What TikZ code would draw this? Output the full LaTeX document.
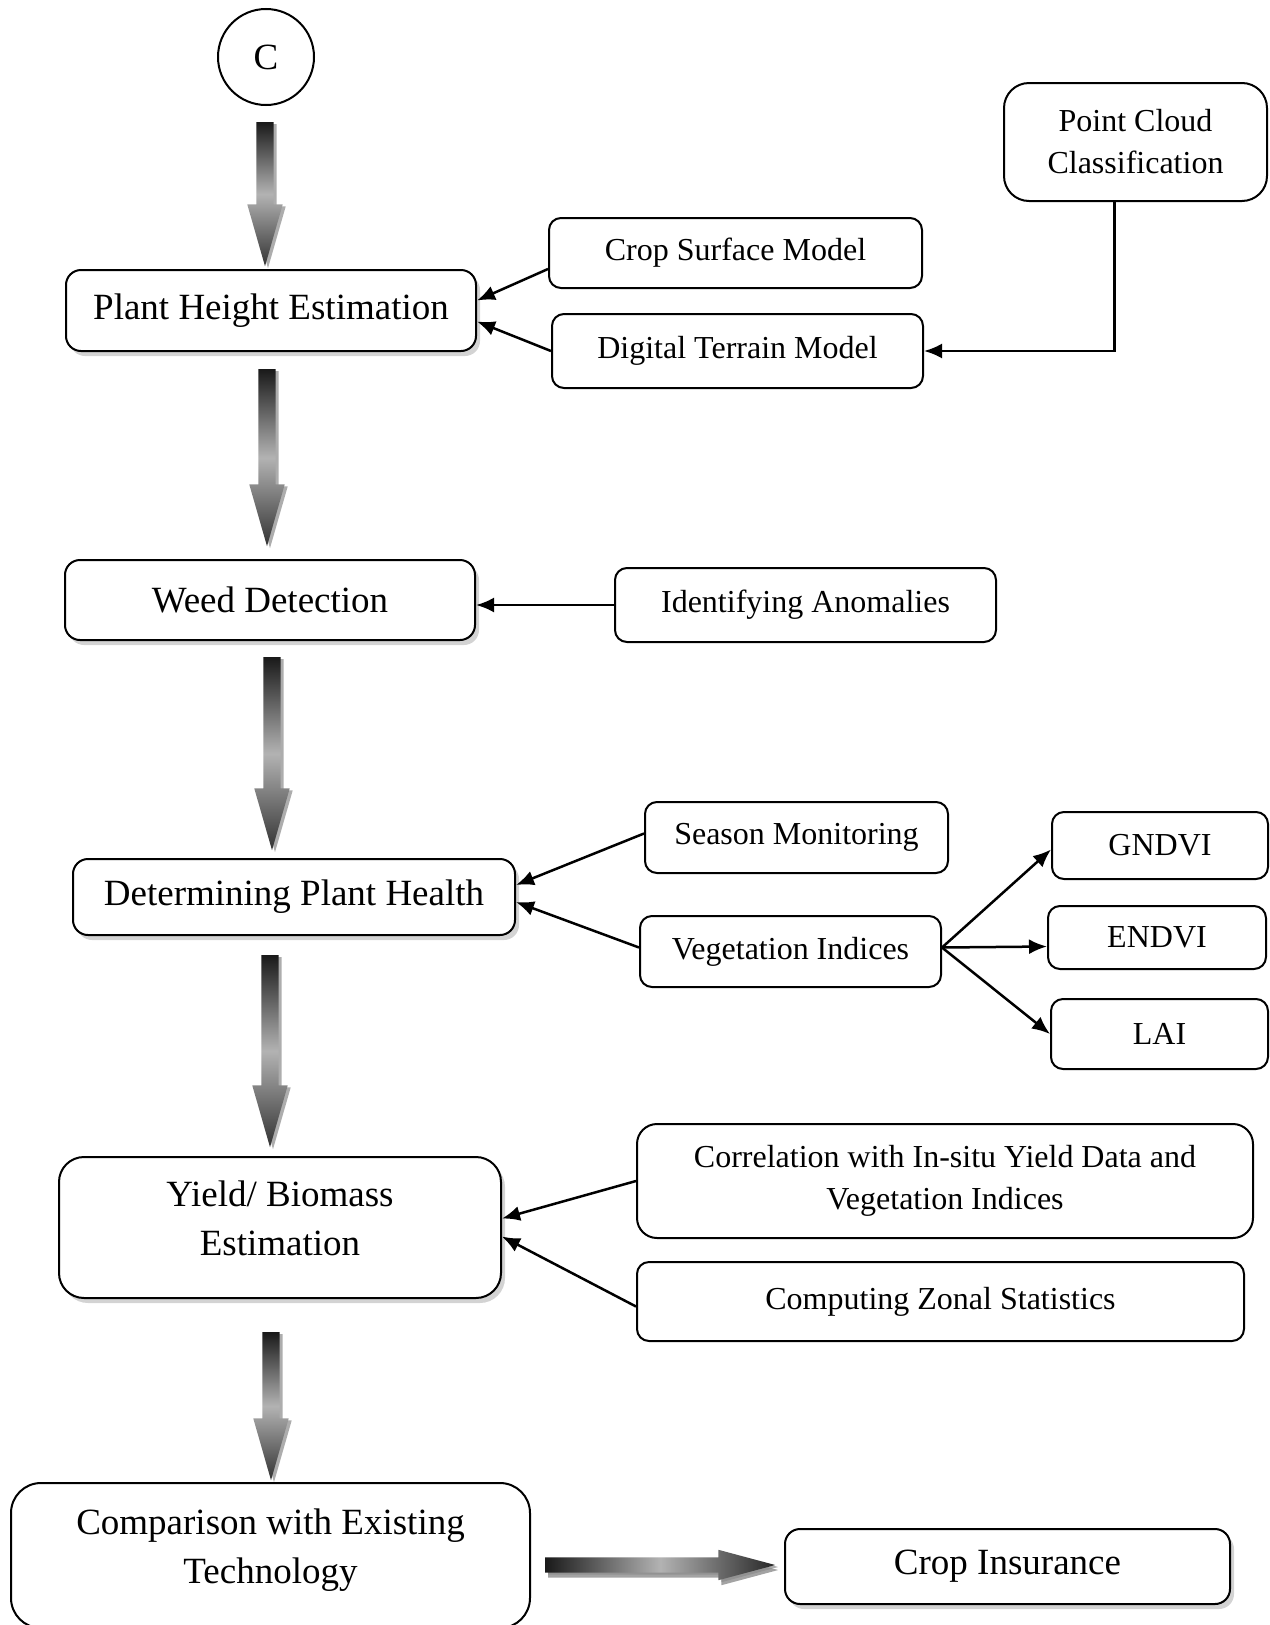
\documentclass[tikz,border=0pt]{standalone}
\usepackage{fontspec}
\setmainfont{Liberation Serif}
\usepackage{tikz}
\usetikzlibrary{shapes,arrows.meta,positioning,shadows}

\newcommand{\bigtxt}{\fontsize{37}{49}\selectfont}
\newcommand{\smalltxt}{\fontsize{32}{42}\selectfont}

\begin{document}
\begin{tikzpicture}[
    x=1pt, y=-1pt,
    box/.style={rectangle, rounded corners=15pt, draw, line width=2pt, fill=white, align=center, font=\bigtxt},
    mainbox/.style={box, drop shadow={shadow xshift=4pt, shadow yshift=-5pt, opacity=0.35}},
    subbox/.style={box, rounded corners=12pt, font=\smalltxt},
    fatarrow/.style={single arrow, anchor=tail, draw=none, inner sep=8.5pt, minimum width=35pt, single arrow head extend=9pt, single arrow head indent=0pt, single arrow tip angle=32, drop shadow={shadow xshift=3pt, shadow yshift=-2pt, fill=black!40, opacity=0.8}},
    down/.style={fatarrow, shape border rotate=270, top color=black!90, bottom color=black!80, middle color=black!30},
    arrow/.style={-{Latex[length=18pt,width=15pt]}, line width=2.5pt}
]
\useasboundingbox (0,0) rectangle (1269,1625);

\node[circle, draw, line width=2pt, minimum size=96pt, font=\bigtxt] (c) at (266,57) {C};

\node[mainbox, minimum width=410pt, minimum height=81pt] (phe) at (271,310.5) {Plant Height Estimation};
\node[subbox, minimum width=373pt, minimum height=70pt] (csm) at (735.5,253) {Crop Surface Model};
\node[subbox, minimum width=371pt, minimum height=74pt] (dtm) at (737.5,351) {Digital Terrain Model};
\node[subbox, rounded corners=25pt, minimum width=263pt, minimum height=118pt] (pcc) at (1135.5,142) {Point Cloud\\Classification};

\node[mainbox, minimum width=410pt, minimum height=80pt] (wd) at (270,600) {Weed Detection};
\node[subbox, minimum width=381pt, minimum height=74pt] (ia) at (805.5,605) {Identifying Anomalies};

\node[mainbox, minimum width=442pt, minimum height=76pt] (dph) at (294,897) {Determining Plant Health};
\node[subbox, minimum width=303pt, minimum height=71pt] (sm) at (796.5,837.5) {Season Monitoring};
\node[subbox, minimum width=301pt, minimum height=71pt] (vi) at (790.5,951.5) {Vegetation Indices};
\node[subbox, minimum width=216pt, minimum height=67pt] (gndvi) at (1160,845.5) {GNDVI};
\node[subbox, minimum width=218pt, minimum height=63pt] (endvi) at (1157,937.5) {ENDVI};
\node[subbox, minimum width=217pt, minimum height=70pt] (lai) at (1159.5,1034) {LAI};

\node[mainbox, rounded corners=25pt, minimum width=442pt, minimum height=141pt, text depth=18pt] (ybe) at (280,1227.5) {Yield/ Biomass\\Estimation};
\node[subbox, rounded corners=20pt, minimum width=616pt, minimum height=114pt] (corr) at (945,1181) {Correlation with In-situ Yield Data and\\Vegetation Indices};
\node[subbox, minimum width=607pt, minimum height=79pt] (czs) at (940.5,1301.5) {Computing Zonal Statistics};

\node[box, rounded corners=30pt, minimum width=519pt, minimum height=145pt, text depth=18pt] (cet) at (270.5,1555.5) {Comparison with Existing\\Technology};
\node[mainbox, minimum width=445pt, minimum height=75pt] (ci) at (1007.5,1566.5) {Crop Insurance};

% flow arrows
\node[down, minimum height=144pt] (a1) at (265,122) {};
\node[down, minimum height=177pt] (a2) at (267,369) {};
\node[down, minimum height=193pt] (a3) at (272,657) {};
\node[down, minimum height=192pt] (a4) at (270,955) {};
\node[down, minimum height=148pt] (a5) at (271,1332) {};
\node[fatarrow, inner sep=7.5pt, minimum width=30pt, single arrow head extend=7.5pt, single arrow tip angle=30, left color=black!90, right color=black!85, middle color=black!30, minimum height=230pt, drop shadow={shadow xshift=3pt, shadow yshift=-5pt, fill=black!45, opacity=0.8}] (a6) at (545,1565) {};

\draw[arrow] ([yshift=-16pt]csm.west) -- ([yshift=10pt]phe.east);
\draw[arrow] (dtm.west) -- ([yshift=-11pt]phe.east);
\draw[arrow] ([xshift=-21pt]pcc.south) |- (dtm.east);
\draw[arrow] (ia.west) -- (ia.west -| wd.east);
\draw[arrow] ([yshift=4pt]sm.west) -- ([yshift=12pt]dph.east);
\draw[arrow] ([yshift=4pt]vi.west) -- ([yshift=-5pt]dph.east);
\draw[arrow] ([yshift=4pt]vi.east) -- ([yshift=-4pt]gndvi.west);
\draw[arrow] ([yshift=4pt]vi.east) -- ([yshift=-9pt]endvi.west);
\draw[arrow] ([yshift=4pt]vi.east) -- (lai.west);
\draw[arrow] (corr.west) -- ([yshift=9pt]ybe.east);
\draw[arrow] ([yshift=-5pt]czs.west) -- ([yshift=-9pt]ybe.east);
\end{tikzpicture}
\end{document}
